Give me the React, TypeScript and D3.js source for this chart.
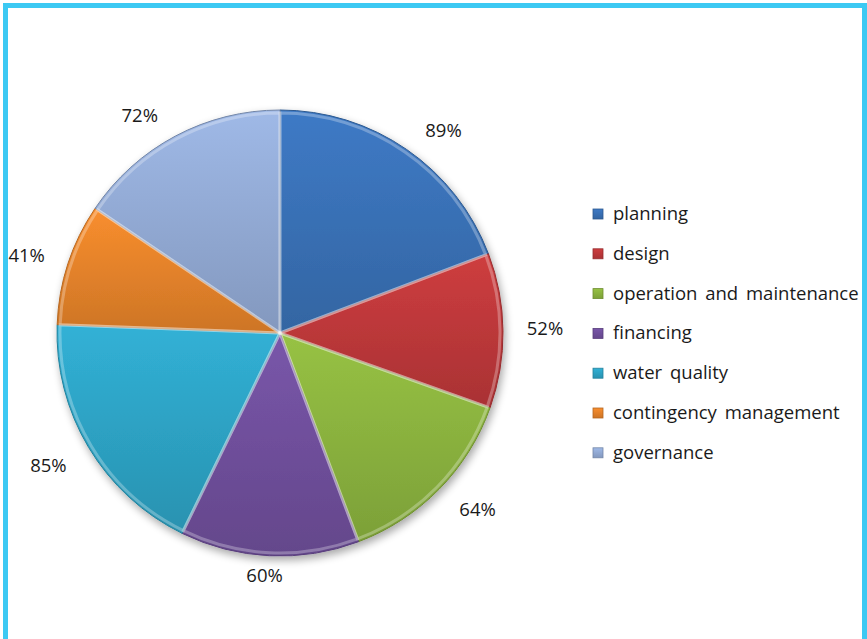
import { useEffect, useRef } from "react";
import * as d3 from "d3";

const categories = ["planning", "design", "operation and maintenance", "financing", "water quality", "contingency management", "governance"];
const values = [89, 52, 64, 60, 85, 41, 72];
const labels = ["89%", "52%", "64%", "60%", "85%", "41%", "72%"];
const colors = ["#3a72b8", "#c0393b", "#8db53f", "#71509e", "#2ea5c7", "#e8842b", "#94acd7"];

export default function App() {
  const svgRef = useRef<SVGSVGElement>(null);

  useEffect(() => {
    if (!svgRef.current) return;
    document.body.style.margin = "0";
    const width = 867;
    const height = 639;
    const cx = 280, cy = 333, r = 223;
    const fontSize = 18.5;

    const svg = d3.select(svgRef.current);
    svg.selectAll("*").remove();

    svg.append("rect").attr("width", width).attr("height", height).attr("fill", "#fff");

    const defs = svg.append("defs");
    const shadow = defs.append("filter").attr("id", "shadow")
      .attr("x", "-20%").attr("y", "-20%").attr("width", "140%").attr("height", "140%");
    shadow.append("feGaussianBlur").attr("in", "SourceAlpha").attr("stdDeviation", 4);
    shadow.append("feOffset").attr("dx", 2).attr("dy", 4).attr("result", "b");
    shadow.append("feComponentTransfer").append("feFuncA").attr("type", "linear").attr("slope", 0.35);
    const merge = shadow.append("feMerge");
    merge.append("feMergeNode");
    merge.append("feMergeNode").attr("in", "SourceGraphic");

    colors.forEach((c, i) => {
      const grad = defs.append("linearGradient").attr("id", `g${i}`)
        .attr("x1", 0).attr("y1", 0).attr("x2", 0).attr("y2", 1);
      grad.append("stop").attr("offset", "0%").attr("stop-color", d3.color(c)!.brighter(0.2).formatHex());
      grad.append("stop").attr("offset", "100%").attr("stop-color", d3.color(c)!.darker(0.35).formatHex());
    });

    const pie = d3.pie<number>().sort(null).value(d => d);
    const arcs = pie(values);
    const arc = d3.arc<d3.PieArcDatum<number>>().innerRadius(0).outerRadius(r);
    const bevel = d3.arc<d3.PieArcDatum<number>>().innerRadius(0).outerRadius(r - 3);

    const g = svg.append("g").attr("transform", `translate(${cx},${cy})`);
    const pieG = g.append("g").attr("filter", "url(#shadow)");

    pieG.selectAll("path.slice")
      .data(arcs)
      .enter()
      .append("path")
      .attr("class", "slice")
      .attr("d", arc)
      .attr("fill", (_, i) => `url(#g${i})`)
      .attr("stroke", (_, i) => d3.color(colors[i])!.darker(0.7).formatHex())
      .attr("stroke-width", 1);

    g.selectAll("path.bevel")
      .data(arcs)
      .enter()
      .append("path")
      .attr("class", "bevel")
      .attr("d", bevel)
      .attr("fill", "none")
      .attr("stroke", "#fff")
      .attr("stroke-opacity", 0.28)
      .attr("stroke-width", 3);

    // outside-end labels: anchor just past the rim, box pushed outward
    const gap = 12;
    const padX = 30, padY = 9;
    g.selectAll("text.lbl")
      .data(arcs)
      .enter()
      .append("text")
      .attr("class", "lbl")
      .attr("transform", d => {
        const a = (d.startAngle + d.endAngle) / 2;
        const s = Math.sin(a), c = Math.cos(a);
        const x = (r + gap) * s + padX * Math.max(-1, Math.min(1, s * 3));
        let y = -(r + gap) * c - padY * c;
        if (c < 0) y += 10 * Math.abs(s);
        return `translate(${x},${y})`;
      })
      .attr("text-anchor", "middle")
      .attr("dominant-baseline", "middle")
      .attr("font-family", "'Open Sans', sans-serif")
      .attr("font-size", fontSize)
      .attr("fill", "#1a1a1a")
      .text((_, i) => labels[i]);

    const legend = svg.append("g").attr("transform", "translate(593,214)");
    const rows = legend.selectAll("g.row")
      .data(categories)
      .enter()
      .append("g")
      .attr("class", "row")
      .attr("transform", (_, i) => `translate(0,${i * 39.8})`);
    rows.append("rect")
      .attr("x", 0).attr("y", -5).attr("width", 10).attr("height", 10)
      .attr("fill", (_, i) => `url(#g${i})`)
      .attr("stroke", (_, i) => d3.color(colors[i])!.darker(0.7).formatHex())
      .attr("stroke-width", 0.8);
    rows.append("text")
      .attr("x", 20)
      .attr("y", 1)
      .attr("dominant-baseline", "middle")
      .attr("font-family", "'Open Sans', sans-serif")
      .attr("font-size", fontSize)
      .attr("word-spacing", 3)
      .attr("fill", "#1a1a1a")
      .text(d => d);

    // cyan frame
    svg.append("path")
      .attr("d", `M5.5,${height} V5.5 H864.5 V${height}`)
      .attr("fill", "none")
      .attr("stroke", "#3cc9f3")
      .attr("stroke-width", 5);
  }, []);

  return (
    <div style={{ position: "absolute", left: 0, top: 0 }}>
      <svg ref={svgRef} width={867} height={639} style={{ display: "block" }}></svg>
    </div>
  );
}
